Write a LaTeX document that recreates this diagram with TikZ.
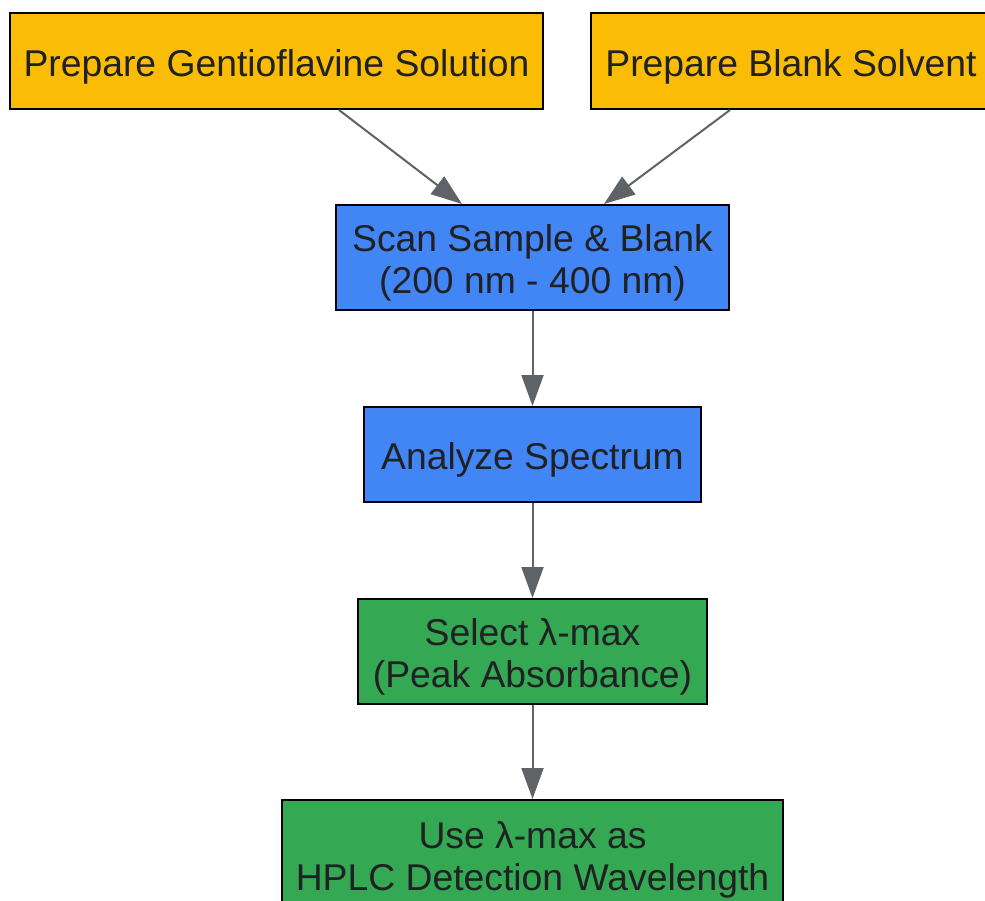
\documentclass[tikz,border=0pt]{standalone}
\usepackage{fontspec}
\setmainfont{Liberation Sans}
\usetikzlibrary{arrows.meta}
\definecolor{gyellow}{HTML}{FBBC05}
\definecolor{gblue}{HTML}{4285F4}
\definecolor{ggreen}{HTML}{34A853}
\definecolor{gtext}{HTML}{202124}
\definecolor{garrow}{HTML}{5F6368}
\tikzset{
  box/.style={draw=black, line width=2pt, rectangle, inner sep=0pt, align=center,
    text=gtext, font=\fontsize{37.3}{42}\selectfont, text depth=0pt},
  oneline/.style={text height=30.5pt},
  twoline/.style={text height=72.5pt},
  conn/.style={draw=garrow, line width=2pt, -{Triangle[length=31pt,width=22pt]}}
}
\begin{document}
\begin{tikzpicture}[x=1pt,y=-1pt]
\useasboundingbox (0,0) rectangle (985,901);
\fill[white] (0,0) rectangle (985,901);
\begin{scope}
\clip (0,0) rectangle (985,901);
\node[box, oneline, fill=gyellow, minimum width=533pt, minimum height=96pt] (g) at (276.5,61) {Prepare Gentioflavine Solution};
\node[box, oneline, fill=gyellow, minimum width=400pt, minimum height=96pt] (b) at (791,61) {Prepare Blank Solvent};
\node[box, twoline, fill=gblue, minimum width=393pt, minimum height=105pt] (s) at (532.5,257.5) {Scan Sample \& Blank\\(200 nm - 400 nm)};
\node[box, oneline, fill=gblue, minimum width=337pt, minimum height=95pt] (a) at (532.5,454.5) {Analyze Spectrum};
\node[box, twoline, fill=ggreen, minimum width=349pt, minimum height=105pt] (sel) at (532.5,651.5) {Select λ-max\\(Peak Absorbance)};
\node[box, twoline, fill=ggreen, minimum width=501pt, minimum height=108pt] (u) at (532.5,854) {Use λ-max as\\HPLC Detection Wavelength};
\draw[conn] ([xshift=62.5pt]g.south) -- ([xshift=-70.5pt]s.north);
\draw[conn] ([xshift=-61pt]b.south) -- ([xshift=71.5pt]s.north);
\draw[conn] (s) -- (a);
\draw[conn] (a) -- (sel);
\draw[conn] (sel) -- (u);
\end{scope}
\end{tikzpicture}
\end{document}
